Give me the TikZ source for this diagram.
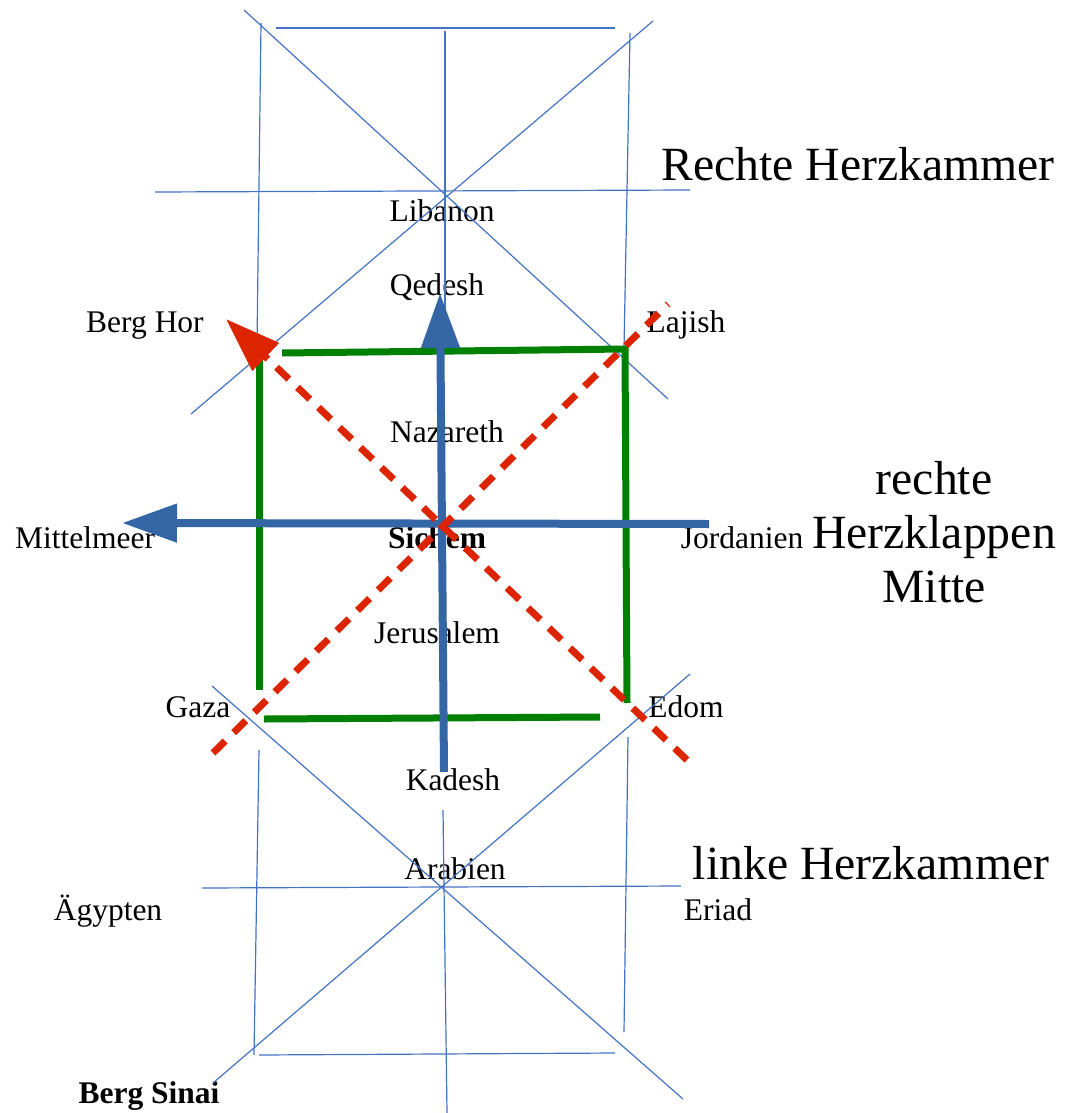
\documentclass[tikz,border=0pt]{standalone}
\usepackage{fontspec}
\setmainfont{Liberation Serif}
\usetikzlibrary{arrows.meta}
\definecolor{gridblue}{RGB}{68,114,196}
\definecolor{axisblue}{RGB}{52,101,164}
\definecolor{wallgreen}{RGB}{0,128,0}
\definecolor{routered}{RGB}{221,36,0}
\tikzset{
  gridline/.style={draw=gridblue, line width=0.6pt},
  wall/.style={draw=wallgreen, line width=3.5pt},
  axis/.style={draw=axisblue, line width=4pt,
               -{Triangle[length=27.5pt,width=18.5pt]}},
  route/.style={draw=routered, line width=3.5pt, dash pattern=on 8.5pt off 6pt},
  place/.style={font=\fontsize{15.75}{18}\selectfont, anchor=base, inner sep=0pt},
  region/.style={font=\fontsize{23.85}{27}\selectfont, align=center, inner sep=0pt},
}
\begin{document}
\begin{tikzpicture}[x=0.5pt, y=-0.5pt]
  \useasboundingbox (0,0) rectangle (1071,1113);
  % place names
  \node[place] (libanon) at (442,221) {Libanon};
  \node[place] (qedesh) at (437,295) {Qedesh};
  \node[place] (berghor) at (145,332) {Berg Hor};
  \node[place] (lajish) at (686,332) {Lajish};
  \node[place] (nazareth) at (447,442) {Nazareth};
  \node[place] (mittelmeer) at (85,548) {Mittelmeer};
  \node[place, font=\fontsize{15.75}{18}\selectfont\bfseries] (sichem) at (437,548) {Sichem};
  \node[place] (jordanien) at (742,548) {Jordanien};
  \node[place] (jerusalem) at (437,643) {Jerusalem};
  \node[place] (gaza) at (198,717) {Gaza};
  \node[place] (edom) at (686,717) {Edom};
  \node[place] (kadesh) at (453,790) {Kadesh};
  \node[place] (arabien) at (455,879) {Arabien};
  \node[place] (aegypten) at (108,920) {Ägypten};
  \node[place] (eriad) at (718,920) {Eriad};
  \node[place, font=\fontsize{15.75}{18}\selectfont\bfseries] (bergsinai) at (149,1103) {Berg Sinai};
  % heart regions
  \node[region, anchor=base] (rkammer) at (858,180) {Rechte Herzkammer};
  \node[region] (klappen) at (934,532) {rechte\\Herzklappen\\Mitte};
  \node[region, anchor=base] (lkammer) at (871,879) {linke Herzkammer};
  % upper grid
  \draw[gridline] (276,28) -- (615,28);
  \draw[gridline] (155,192) -- (690,190);
  \draw[gridline] (445,31) -- (445,330);
  \draw[gridline] (261,23) -- (257,345);
  \draw[gridline] (630,33) -- (624,348);
  \draw[gridline] (244,10) -- (668,399);
  \draw[gridline] (191,414) -- (653,21);
  % lower grid
  \draw[gridline] (202,888) -- (681,886);
  \draw[gridline] (259,1055) -- (615,1053);
  \draw[gridline] (443,810) -- (447,1113);
  \draw[gridline] (259,750) -- (254,1055);
  \draw[gridline] (628,737) -- (624,1032);
  \draw[gridline] (212,686) -- (683,1099);
  \draw[gridline] (213,1083) -- (690,674);
  % green square
  \draw[wall] (282,353) -- (625,349) -- (627,703);
  \draw[wall] (259,357) -- (259,690);
  \draw[wall] (264,719) -- (600,717);
  % blue axes
  \draw[axis] (444,772) -- (440,293);
  \draw[axis] (709,524) -- (122,523);
  % red diagonals
  \draw[route, -{Triangle[length=27.5pt,width=18.5pt]}] (687,760) -- (226,319);
  \draw[route] (213,753) -- (668,304);
\end{tikzpicture}
\end{document}
